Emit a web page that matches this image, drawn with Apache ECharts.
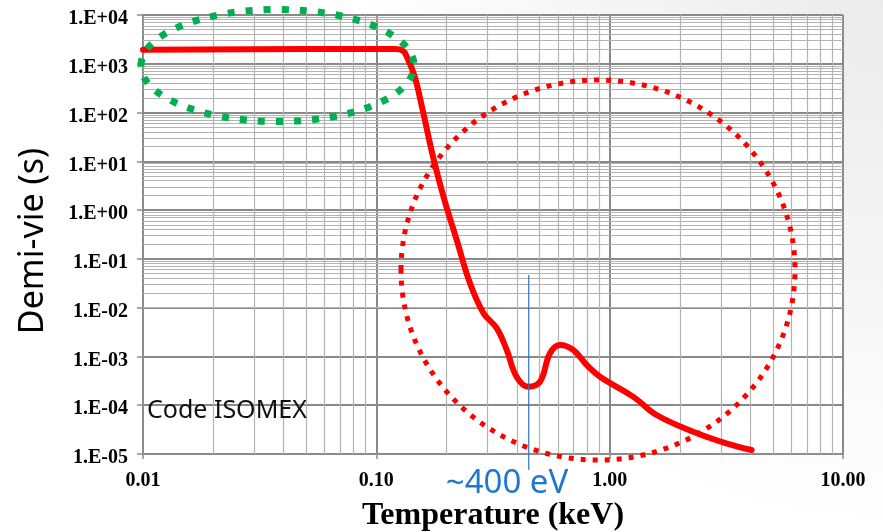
<!DOCTYPE html>
<html>
<head>
<meta charset="utf-8">
<script src="https://cdn.jsdelivr.net/npm/echarts@6/dist/echarts.min.js"></script>
<style>
  html, body { margin: 0; padding: 0; background: #fff; }
  #chart { width: 883px; height: 532px; }
</style>
</head>
<body>
<div id="chart"></div>
<script>
// Half-life of the isomer versus plasma temperature (ISOMEX code)
const temperatureKeV = [0.01, 0.05, 0.12, 0.13, 0.135, 0.146, 0.159, 0.175, 0.194, 0.221, 0.252, 0.288, 0.328, 0.362, 0.399, 0.448, 0.503, 0.555, 0.613, 0.698, 0.797, 0.909, 1.26, 1.59, 2.28, 3.16, 4.06];
const halfLifeS = [1950, 2000, 2000, 1850, 1400, 543, 97, 12.4, 1.88, 0.244, 0.0316, 0.0077, 0.0038, 0.00136, 0.000385, 0.00024, 0.000304, 0.00116, 0.00172, 0.00136, 0.00067, 0.000385, 0.00015, 0.000063, 0.0000287, 0.0000166, 0.0000121];

// Axis ranges (decades)
const xDecades = [-2, 1];
const yDecades = [-5, 4];

// Marker of the ~400 eV minimum: temperature and vertical span (s)
const markerT = 0.45;
const markerSpan = [0.047, 0.0000047];

// Minor (2..9) grid positions for each decade
function minorValues(d0, d1) {
  const out = [];
  for (let d = d0; d < d1; d++) {
    for (let k = 2; k <= 9; k++) out.push(+(k * Math.pow(10, d)).toPrecision(3));
  }
  return out;
}
const xMinor = minorValues(xDecades[0], xDecades[1]);
const yMinor = minorValues(yDecades[0], yDecades[1]);

const chart = echarts.init(document.getElementById('chart'), null, { renderer: 'canvas' });

const serif = '"Liberation Serif", "Times New Roman", serif';
const sans = '"Noto Sans", "Open Sans", sans-serif';

const minorStyle = { color: '#b3b3b3', width: 1.2, type: 'solid' };
const minorLines = [];
xMinor.forEach(v => minorLines.push({ xAxis: v, lineStyle: minorStyle }));
yMinor.forEach(v => minorLines.push({ yAxis: v, lineStyle: minorStyle }));

const graphics = [
  {
    type: 'rect', z: -10, silent: true,
    shape: { x: 0, y: 0, width: 883, height: 532 },
    style: {
      fill: {
        type: 'radial', x: 1, y: 0, r: 1,
        colorStops: [{ offset: 0, color: '#ebebeb' }, { offset: 1, color: '#ffffff' }]
      }
    }
  },
  {
    type: 'text', z: 10, silent: true,
    x: 33, y: 241, rotation: Math.PI / 2,
    style: { text: 'Demi-vie (s)', font: '34px ' + sans, fill: '#000', align: 'center', verticalAlign: 'middle' }
  },
  {
    type: 'text', z: 10, silent: true,
    x: 147, y: 411,
    style: { text: 'Code ISOMEX', font: '25px ' + sans, fill: '#111', align: 'left', verticalAlign: 'middle' }
  },
  {
    type: 'text', z: 10, silent: true,
    x: 507, y: 484,
    style: { text: '~400 eV', font: '33px ' + sans, fill: '#1f78cd', align: 'center', verticalAlign: 'middle' }
  },
  {
    type: 'ellipse', z: 20, silent: true,
    shape: { cx: 277.5, cy: 65.5, rx: 136.5, ry: 56 },
    style: { fill: 'none', stroke: '#00b050', lineWidth: 7, lineDash: [7, 11], lineCap: 'butt' }
  },
  {
    type: 'ellipse', z: 20, silent: true,
    shape: { cx: 598, cy: 270, rx: 197, ry: 190 },
    style: { fill: 'none', stroke: '#ff0000', lineWidth: 5, lineDash: [5, 7], lineCap: 'butt' }
  }
];

chart.setOption({
  animation: false,
  backgroundColor: '#ffffff',
  grid: {
    left: 143, right: 40, top: 15, bottom: 78,
    show: true, backgroundColor: '#ffffff', borderWidth: 0,
    containLabel: false, outerBoundsMode: 'none'
  },
  xAxis: {
    type: 'log', logBase: 10,
    min: Math.pow(10, xDecades[0]), max: Math.pow(10, xDecades[1]),
    splitNumber: 3,
    name: 'Temperature (keV)',
    nameLocation: 'middle', nameGap: 46,
    nameTextStyle: { fontFamily: serif, fontWeight: 'bold', fontSize: 32, color: '#000' },
    axisLine: { show: true, lineStyle: { color: '#8c8c8c', width: 2 } },
    axisTick: { show: true, length: 5, lineStyle: { color: '#8c8c8c', width: 1.5 } },
    axisLabel: {
      margin: 17, fontFamily: serif, fontWeight: 'bold', fontSize: 20, color: '#000',
      formatter: v => v.toFixed(2)
    },
    splitLine: { show: true, lineStyle: { color: '#898989', width: 2 } },
    minorTick: { show: false }, minorSplitLine: { show: false }
  },
  yAxis: {
    type: 'log', logBase: 10,
    min: Math.pow(10, yDecades[0]), max: Math.pow(10, yDecades[1]),
    splitNumber: 9,
    axisLine: { show: true, lineStyle: { color: '#8c8c8c', width: 2 } },
    axisTick: { show: true, length: 6, lineStyle: { color: '#8c8c8c', width: 1.5 } },
    axisLabel: {
      margin: 15, fontFamily: serif, fontWeight: 'bold', fontSize: 20, color: '#000',
      verticalAlign: 'top', lineHeight: 8,
      formatter: v => {
        const e = Math.round(Math.log10(v));
        return '1.E' + (e >= 0 ? '+' : '-') + String(Math.abs(e)).padStart(2, '0');
      }
    },
    splitLine: { show: true, lineStyle: { color: '#898989', width: 2 } },
    minorTick: { show: false }, minorSplitLine: { show: false }
  },
  graphic: graphics,
  series: [
    {
      // minor grid lines drawn through the axes
      type: 'line', data: [], silent: true, z: 1,
      markLine: {
        silent: true, symbol: 'none', label: { show: false }, animation: false,
        data: minorLines
      }
    },
    {
      type: 'line', z: 5,
      data: temperatureKeV.map((t, i) => [t, halfLifeS[i]]),
      smooth: 0.4,
      showSymbol: false, symbol: 'none', clip: false,
      lineStyle: { color: '#ff0000', width: 6, cap: 'round', join: 'round' }
    }
  ]
});

// Blue marker line at the minimum, placed through the axis scales
const pTop = chart.convertToPixel({ gridIndex: 0 }, [markerT, markerSpan[0]]);
const pBot = chart.convertToPixel({ gridIndex: 0 }, [markerT, markerSpan[1]]);
graphics.push({
  type: 'line', z: 8, silent: true,
  shape: { x1: pTop[0], y1: pTop[1], x2: pBot[0], y2: pBot[1] },
  style: { stroke: '#2e75b6', lineWidth: 1.2 }
});
chart.setOption({ graphic: graphics });
</script>
</body>
</html>
